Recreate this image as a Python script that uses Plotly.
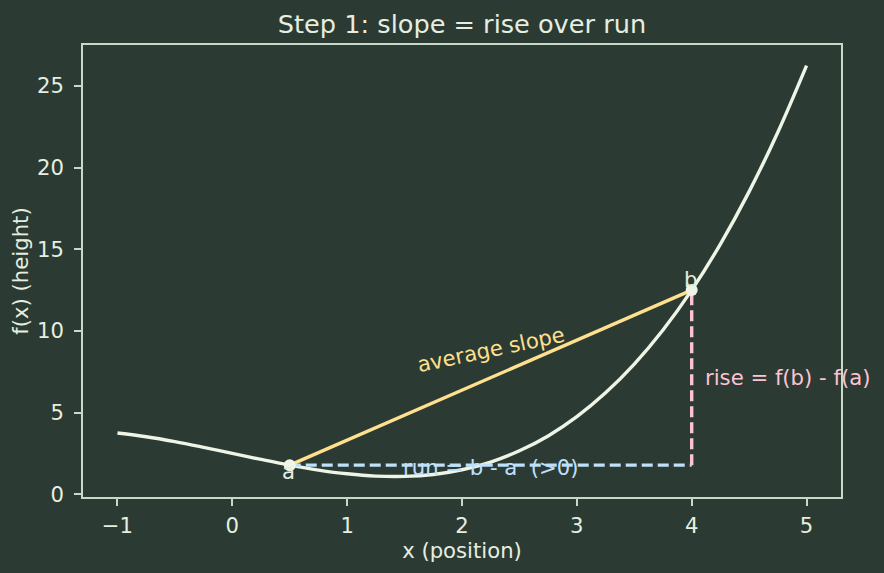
import plotly.graph_objects as go

# Curve values
curve_x = [-1.0, -0.75, -0.5, -0.25, 0.0, 0.25, 0.5, 0.75, 1.0, 1.25, 1.5, 1.75, 2.0,
           2.25, 2.5, 2.75, 3.0, 3.25, 3.5, 3.75, 4.0, 4.25, 4.5, 4.75, 5.0]
curve_y = [3.75, 3.52, 3.22, 2.87, 2.50, 2.13, 1.78, 1.48, 1.25, 1.11, 1.09, 1.21, 1.50,
           1.97, 2.66, 3.57, 4.75, 6.21, 7.97, 10.06, 12.50, 15.32, 18.53, 22.17, 26.25]

a_x, a_y = 0.5, 1.78
b_x, b_y = 4.0, 12.5

title_text = "Step 1: slope = rise over run"
x_title = "x (position)"
y_title = "f(x) (height)"
x_ticks = [-1, 0, 1, 2, 3, 4, 5]
y_ticks = [0, 5, 10, 15, 20, 25]

BG = "#2b3b33"
FG = "#e6eee0"
SPINE = "#c9d9c9"
CURVE = "#eef5e6"
YELLOW = "#ffe08f"
BLUE = "#bfe0fb"
PINK = "#ffc2d3"
FONT = "DejaVu Sans"
FS = 21.2
LW = 3.4

fig = go.Figure()
fig.add_trace(go.Scatter(x=curve_x, y=curve_y, mode="lines",
                         line=dict(color=CURVE, width=LW, shape="spline"), hoverinfo="skip"))
fig.add_trace(go.Scatter(x=[a_x, b_x], y=[a_y, b_y], mode="lines",
                         line=dict(color=YELLOW, width=LW), hoverinfo="skip"))
fig.add_trace(go.Scatter(x=[a_x, b_x], y=[a_y, a_y], mode="lines",
                         line=dict(color=BLUE, width=LW, dash="11px,5px"), hoverinfo="skip"))
fig.add_trace(go.Scatter(x=[b_x, b_x], y=[a_y, b_y], mode="lines",
                         line=dict(color=PINK, width=LW, dash="11px,5px"), hoverinfo="skip"))
fig.add_trace(go.Scatter(x=[a_x, b_x], y=[a_y, b_y], mode="markers",
                         marker=dict(color=CURVE, size=12), hoverinfo="skip"))

ann = [
    dict(x=a_x, y=a_y, text="a", xanchor="center", yanchor="middle", xshift=-1, yshift=-6,
         font=dict(color=FG, size=FS, family=FONT)),
    dict(x=b_x, y=b_y, text="b", xanchor="center", yanchor="middle", xshift=-1, yshift=11,
         font=dict(color=FG, size=FS, family=FONT)),
    dict(x=2.25, y=8.85, text="average slope", textangle=-12, xanchor="center", yanchor="middle",
         font=dict(color=YELLOW, size=FS, family=FONT)),
    dict(x=2.25, y=1.65, text="run = b - a\u00a0\u00a0(>0)", xanchor="center", yanchor="middle",
         font=dict(color=BLUE, size=FS, family=FONT)),
    dict(x=4.1, y=7.17, text="rise = f(b) - f(a)", xanchor="left", yanchor="middle",
         font=dict(color=PINK, size=FS, family=FONT)),
]
for a in ann:
    a.update(showarrow=False, xref="x", yref="y")

fig.update_layout(
    width=884, height=573,
    paper_bgcolor=BG, plot_bgcolor=BG,
    margin=dict(l=83, r=43, t=45, b=76),
    showlegend=False,
    font=dict(family=FONT, color=FG, size=FS),
    title=dict(text=title_text, x=0.5, xref="paper", xanchor="center",
               y=1 - 24 / 573, yref="container", yanchor="middle",
               font=dict(size=25.6, color=FG, family=FONT)),
    annotations=ann,
)
fig.update_xaxes(range=[-1.3, 5.3], tickvals=x_ticks, ticktext=[str(v).replace("-", "\u2212") for v in x_ticks],
                 showgrid=False, zeroline=False, showline=True, mirror=True,
                 linecolor=SPINE, linewidth=1.6, ticks="outside", ticklen=7, tickwidth=1.6,
                 tickcolor=SPINE, tickfont=dict(size=FS, color=FG), ticklabelstandoff=2,
                 title=dict(text=x_title, font=dict(size=FS, color=FG), standoff=5))
fig.update_yaxes(range=[-0.17, 27.51], tickvals=y_ticks, ticktext=[str(v) for v in y_ticks],
                 showgrid=False, zeroline=False, showline=True, mirror=True,
                 linecolor=SPINE, linewidth=1.6, ticks="outside", ticklen=7, tickwidth=1.6,
                 tickcolor=SPINE, tickfont=dict(size=FS, color=FG), ticklabelstandoff=6,
                 title=dict(text=y_title, font=dict(size=FS, color=FG), standoff=3))

fig.write_html("out.html")
